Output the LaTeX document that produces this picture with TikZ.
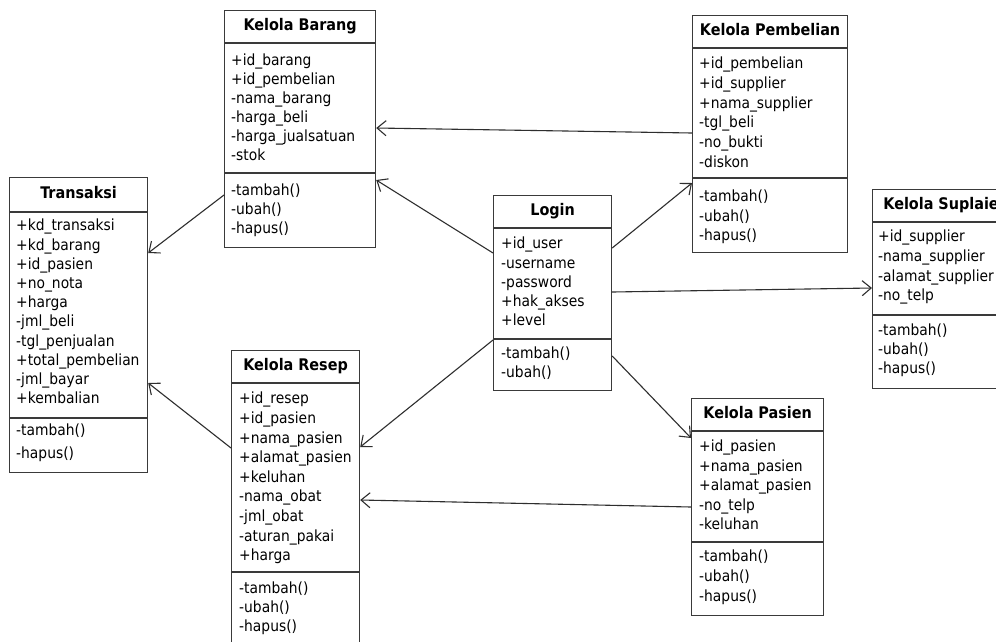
\documentclass[tikz,border=0pt]{standalone}
\usepackage{fontspec}
\setmainfont{DejaVu Sans Condensed}
\usetikzlibrary{arrows.meta,calc}

\definecolor{boxcol}{HTML}{3A3A3A}
\definecolor{linecol}{HTML}{2E2E2E}

\tikzset{
  classbox/.style={draw=boxcol, line width=1.2pt, fill=white, inner sep=0pt, anchor=north west},
  sepline/.style={draw=boxcol, line width=1.2pt},
  classtitle/.style={font=\bfseries\fontsize{16}{18}\selectfont, inner sep=0pt, text height=11.5pt, text depth=3.4pt, anchor=center},
  member/.style={font=\fontsize{15.4}{17}\selectfont, inner sep=0pt, text height=11pt, text depth=3.3pt, anchor=west},
  assoc/.style={draw=linecol, line width=1.1pt, -{Straight Barb[length=9pt,width=15pt,line width=1.1pt]}},
}

% class box: name, left, top, right, bottom, title separator, member separator, title
\newcommand\umlclass[8]{%
  \node[classbox, minimum width={(#4)-(#2)}, minimum height={(#5)-(#3)}] (#1) at (#2,#3) {};
  \draw[sepline] (#1.west |- 0,#6) -- (#1.east |- 0,#6);
  \draw[sepline] (#1.west |- 0,#7) -- (#1.east |- 0,#7);
  \node[classtitle] (#1-title) at ($(#1.north)!0.5!(#1.north |- 0,#6)$) {#8};
}
% member lines: class name, part tag, left x, first centre y, step, list
\newcommand\umlmembers[6]{%
  \foreach \m [count=\i] in {#6}
    \node[member] (#1-#2\i) at (#3, {#4+(\i-1)*#5}) {\m};
}

\begin{document}
\begin{tikzpicture}[x=1pt, y=-1pt]
\clip (0,0) rectangle (996,641);
\fill[white] (0,0) rectangle (996,641);

% Transaksi
\umlclass{tr}{9}{177}{147}{472}{212}{418}{Transaksi}
\umlmembers{tr}{a}{16}{227}{19.2}{+kd\_transaksi,+kd\_barang,+id\_pasien,+no\_nota,+harga,-jml\_beli,-tgl\_penjualan,+total\_pembelian,-jml\_bayar,+kembalian}
\umlmembers{tr}{m}{16}{432}{23}{-tambah(),-hapus()}

% Kelola Barang
\umlclass{brg}{224}{10}{375}{247}{43}{173}{Kelola Barang}
\umlmembers{brg}{a}{231}{62}{19}{+id\_barang,+id\_pembelian,-nama\_barang,-harga\_beli,-harga\_jualsatuan,-stok}
\umlmembers{brg}{m}{231}{192}{19}{-tambah(),-ubah(),-hapus()}

% Login
\umlclass{lg}{493}{195}{611}{390}{228}{339}{Login}
\umlmembers{lg}{a}{501}{245}{19.2}{+id\_user,-username,-password,+hak\_akses,+level}
\umlmembers{lg}{m}{501}{355}{19}{-tambah(),-ubah()}

% Kelola Pembelian
\umlclass{pb}{692}{15}{847}{252}{48}{178}{Kelola Pembelian}
\umlmembers{pb}{a}{699}{65}{19.7}{+id\_pembelian,+id\_supplier,+nama\_supplier,-tgl\_beli,-no\_bukti,-diskon}
\umlmembers{pb}{m}{699}{198}{19.5}{-tambah(),-ubah(),-hapus()}

% Kelola Suplaier
\umlclass{sp}{872}{189}{1016}{388}{222}{315}{Kelola Suplaier}
\umlmembers{sp}{a}{878}{238}{19.6}{+id\_supplier,-nama\_supplier,-alamat\_supplier,-no\_telp}
\umlmembers{sp}{m}{878}{332}{19}{-tambah(),-ubah(),-hapus()}

% Kelola Resep
\umlclass{rs}{231}{350}{359}{660}{383}{572}{Kelola Resep}
\umlmembers{rs}{a}{239}{400}{19.6}{+id\_resep,+id\_pasien,+nama\_pasien,+alamat\_pasien,+keluhan,-nama\_obat,-jml\_obat,-aturan\_pakai,+harga}
\umlmembers{rs}{m}{239}{590}{19}{-tambah(),-ubah(),-hapus()}

% Kelola Pasien
\umlclass{ps}{691}{398}{823}{615}{431}{542}{Kelola Pasien}
\umlmembers{ps}{a}{699}{448}{19.5}{+id\_pasien,+nama\_pasien,+alamat\_pasien,-no\_telp,-keluhan}
\umlmembers{ps}{m}{699}{558}{20}{-tambah(),-ubah(),-hapus()}

% associations
\draw[assoc] (brg.west |- 0,195) -- (tr.east |- 0,253);
\draw[assoc] (rs.west |- 0,448) -- (tr.east |- 0,383);
\draw[assoc] (lg.west |- 0,253) -- (brg.east |- 0,180);
\draw[assoc] (pb.west |- 0,133) -- (brg.east |- 0,128);
\draw[assoc] (lg.east |- 0,248) -- (pb.west |- 0,183);
\draw[assoc] (lg.east |- 0,292) -- (sp.west |- 0,288);
\draw[assoc] (lg.west |- 0,340) -- (rs.east |- 0,447);
\draw[assoc] (lg.east |- 0,356) -- (ps.west |- 0,438);
\draw[assoc] (ps.west |- 0,507) -- (rs.east |- 0,500);
\end{tikzpicture}
\end{document}
